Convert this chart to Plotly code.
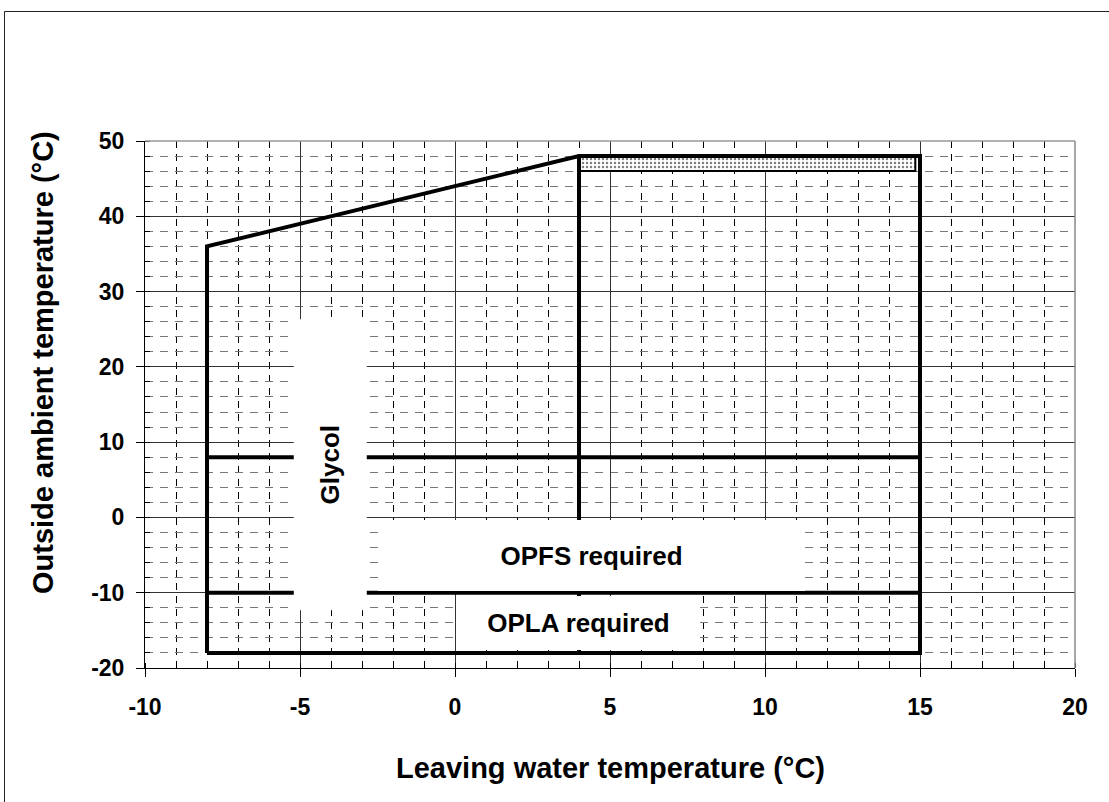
import plotly.graph_objects as go

# ---- data ----
envelope_x = [-8, -8, 4, 15, 15, -8]
envelope_y = [-18, 36, 48, 48, -18, -18]
divider_x = [4, 4]
divider_y = [48, -18]
line8_x = [-8, 15]
line8_y = [8, 8]
lineneg10_x = [-8, 15]
lineneg10_y = [-10, -10]
hatch_x = [4, 14.85, 14.85, 4, 4]
hatch_y = [46, 46, 48, 48, 46]

x_ticks = [-10, -5, 0, 5, 10, 15, 20]
y_ticks = [-20, -10, 0, 10, 20, 30, 40, 50]

labels = ["Glycol", "OPFS required", "OPLA required"]
label_x = [-4.016, 4.403, 3.984]
label_y = [7.0, -5.0, -14.0]

W, H = 1109, 802
L, T = 145, 141
PW, PH = 930, 527
R = W - L - PW
B = H - T - PH

def px_x(p):  # page pixel -> paper
    return (p - L) / PW

def px_y(p):
    return (T + PH - p) / PH

fig = go.Figure()

line_style = dict(color="black", width=4)
fig.add_trace(go.Scatter(x=hatch_x, y=hatch_y, mode="lines", fill="toself",
                         fillcolor="white",
                         fillpattern=dict(shape=".", fgcolor="black", bgcolor="white",
                                          size=4, solidity=0.3),
                         line=dict(color="black", width=2), hoverinfo="skip"))
fig.add_trace(go.Scatter(x=envelope_x, y=envelope_y, mode="lines", line=line_style))
fig.add_trace(go.Scatter(x=divider_x, y=divider_y, mode="lines", line=line_style))
fig.add_trace(go.Scatter(x=line8_x, y=line8_y, mode="lines", line=line_style))
fig.add_trace(go.Scatter(x=lineneg10_x, y=lineneg10_y, mode="lines", line=line_style))

tick_font = dict(family="Liberation Sans", size=23, color="black", weight="bold")
title_font = dict(family="Liberation Sans", size=29, color="black", weight="bold")
label_font = dict(family="Liberation Sans", size=26, color="black", weight="bold")

fig.update_xaxes(range=[-10, 20], tickvals=x_ticks, ticktext=[str(v) for v in x_ticks],
                 ticks="outside", ticklen=8, tickcolor="black", tickwidth=1,
                 showline=True, linecolor="black", linewidth=1,
                 showgrid=True, gridcolor="#333", gridwidth=1, zeroline=False,
                 tickfont=tick_font, ticklabelstandoff=10,
                 minor=dict(dtick=1, tick0=-10, showgrid=True, gridcolor="black",
                            griddash="7px,6px", gridwidth=1, ticks="inside",
                            ticklen=5, tickcolor="black"))
fig.update_yaxes(range=[-20, 50], tickvals=y_ticks, ticktext=[str(v) for v in y_ticks],
                 ticks="outside", ticklen=8, tickcolor="black", tickwidth=1,
                 showline=True, linecolor="black", linewidth=1,
                 showgrid=True, gridcolor="#333", gridwidth=1, zeroline=False,
                 tickfont=tick_font, ticklabelstandoff=7,
                 minor=dict(dtick=2, tick0=-20, showgrid=True, gridcolor="#777",
                            griddash="8px,7px", gridwidth=1, ticks="inside",
                            ticklen=5, tickcolor="black"))

box_sizes = [(291, 73), (427, 71), (243, 54)]
angles = [-90, 0, 0]
annotations = []
for t, x, y, (bw, bh), a in zip(labels, label_x, label_y, box_sizes, angles):
    annotations.append(dict(x=x, y=y, xref="x", yref="y", text=t, showarrow=False,
                            textangle=a, width=bw, height=bh, bgcolor="white",
                            borderwidth=0, borderpad=0, font=label_font,
                            xanchor="center", yanchor="middle", align="center",
                            valign="middle"))
annotations.append(dict(x=px_x(43), y=px_y(363), xref="paper", yref="paper",
                        text="Outside ambient temperature (°C)", textangle=-90,
                        showarrow=False, font=title_font, xanchor="center", yanchor="middle"))
annotations.append(dict(x=px_x(610), y=px_y(768), xref="paper", yref="paper",
                        text="Leaving water temperature (°C)",
                        showarrow=False, font=title_font, xanchor="center", yanchor="middle"))

shapes = [
    dict(type="line", xref="paper", yref="paper", x0=0, x1=1, y0=1, y1=1,
         line=dict(color="#999", width=1.5)),
    dict(type="line", xref="paper", yref="paper", x0=1, x1=1, y0=0, y1=1,
         line=dict(color="#888", width=1.5)),
    dict(type="rect", xref="paper", yref="paper", x0=px_x(4.5), x1=px_x(1125),
         y0=px_y(820), y1=px_y(11.5), line=dict(color="#222", width=1),
         fillcolor="rgba(0,0,0,0)"),
]

fig.update_layout(width=W, height=H, margin=dict(l=L, r=R, t=T, b=B),
                  plot_bgcolor="white", paper_bgcolor="white", showlegend=False,
                  annotations=annotations, shapes=shapes)

fig.write_html("out.html",
               config={"displayModeBar": False},
               post_script="document.body.style.margin='0';"
                           "document.body.style.overflow='hidden';")
